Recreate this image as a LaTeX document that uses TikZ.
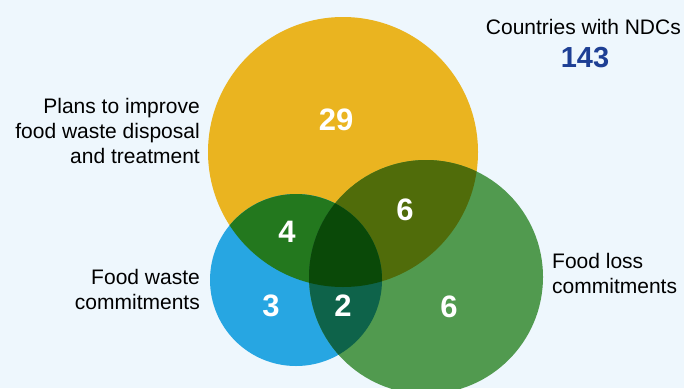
\documentclass[tikz,border=0pt]{standalone}
\usepackage{fontspec}
\setmainfont{Liberation Sans}
\usetikzlibrary{positioning}
\definecolor{venn-bg}{HTML}{EEF7FD}
\definecolor{venn-yellow}{HTML}{EAB420}
\definecolor{venn-blue}{HTML}{27A6E2}
\definecolor{venn-green}{HTML}{519A4F}
\definecolor{venn-yg}{HTML}{506C0A}
\definecolor{venn-yb}{HTML}{23781E}
\definecolor{venn-bgr}{HTML}{0E634A}
\definecolor{venn-all}{HTML}{0A4908}
\definecolor{venn-navy}{HTML}{1E3F94}

\begin{document}
\begin{tikzpicture}[x=1pt,y=-1pt,
  num/.style={text=white,font=\bfseries\fontsize{31}{31}\selectfont,inner sep=0pt},
  lab/.style={font=\fontsize{21}{25}\selectfont,align=right,inner sep=0pt}]
\fill[venn-bg] (0,0) rectangle (684,388);
\clip (0,0) rectangle (684,388);
\coordinate (Y) at (343,152);
\coordinate (B) at (296,280);
\coordinate (G) at (426,277);
% circles
\fill[venn-yellow] (Y) circle (135pt);
\fill[venn-blue] (B) circle (86pt);
\fill[venn-green] (G) circle (117pt);
% overlaps
\begin{scope}
  \clip (Y) circle (135pt);
  \fill[venn-yb] (B) circle (86pt);
  \fill[venn-yg] (G) circle (117pt);
\end{scope}
\begin{scope}
  \clip (B) circle (86pt);
  \fill[venn-bgr] (G) circle (117pt);
  \clip (G) circle (117pt);
  \fill[venn-all] (Y) circle (135pt);
\end{scope}
% counts
\node[num] (n29) at (336,120) {29};
\node[num] (n6a) at (405,210) {6};
\node[num] (n4) at (287,232) {4};
\node[num] (n3) at (271,306) {3};
\node[num] (n2) at (343,306) {2};
\node[num] (n6b) at (449,307) {6};
% labels
\node[lab,anchor=base east] (total) at (681,34) {Countries with NDCs};
\node[text=venn-navy,font=\bfseries\fontsize{29}{29}\selectfont,inner sep=0pt] (n143) at (585,58) {143};
\node[lab,anchor=base east] (plans) at (200,163) {Plans to improve\\food waste disposal\\and treatment};
\node[lab,anchor=base east] (waste) at (200,309) {Food waste\\commitments};
\node[lab,anchor=base west,align=left] (loss) at (552,293) {Food loss\\commitments};
\end{tikzpicture}
\end{document}
